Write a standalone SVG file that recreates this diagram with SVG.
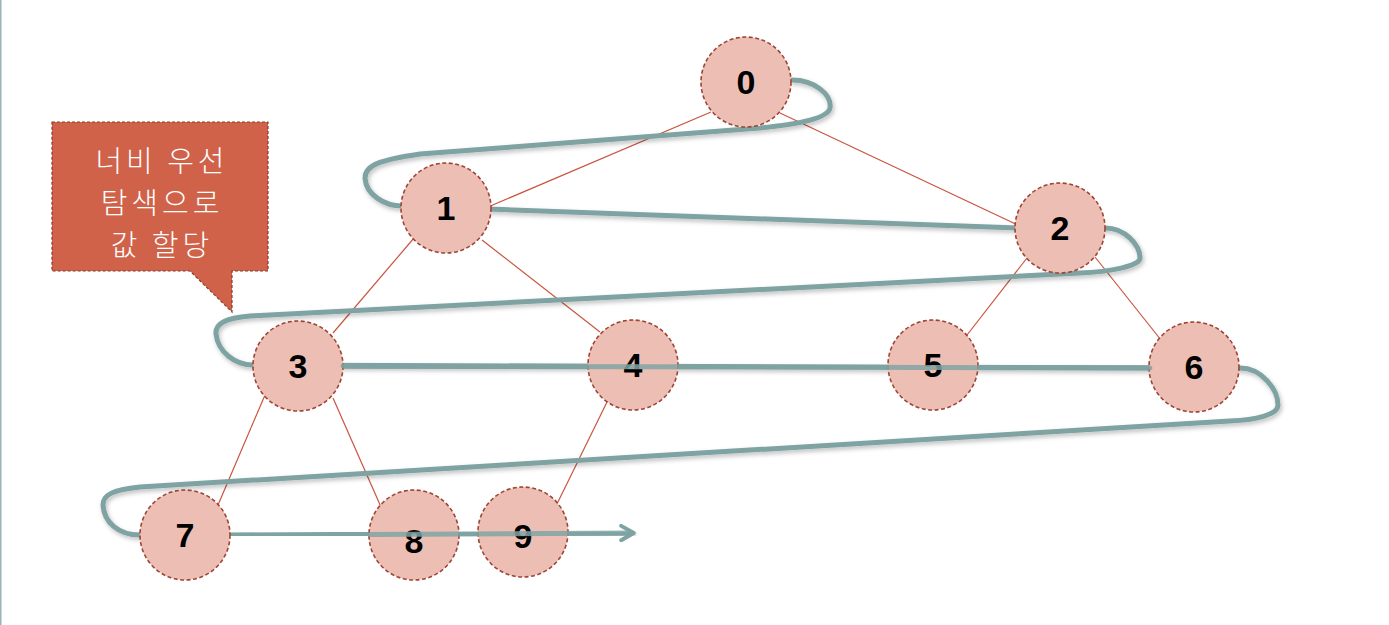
<svg xmlns="http://www.w3.org/2000/svg" width="1389" height="625" viewBox="0 0 1389 625">
<style>
.edge{stroke:#c9553f;stroke-width:1.2;fill:none}
.node circle{fill:#edbfb4;stroke:#9e4436;stroke-width:1.6;stroke-dasharray:4 2.5}
.node text{font-family:"Liberation Sans",Arial,sans-serif;font-weight:bold;font-size:34px;fill:#000;text-anchor:middle}
.trav{stroke:#7fa3a3;stroke-width:5;fill:none;stroke-linecap:round;stroke-linejoin:round}
.callout text{font-family:"Noto Sans CJK KR","Noto Sans",sans-serif;font-weight:300;font-size:29px;letter-spacing:4px;fill:#fff;text-anchor:middle}
</style>
<defs>
<filter id="sh" x="-5%" y="-20%" width="110%" height="140%">
<feDropShadow dx="1.5" dy="2.5" stdDeviation="2" flood-color="#000" flood-opacity="0.25"/>
</filter>
<marker id="arr" viewBox="0 0 10 10" refX="7" refY="5" markerWidth="3.6" markerHeight="3.6" orient="auto" markerUnits="strokeWidth">
<path d="M1,1 L8,5 L1,9" fill="none" stroke="#7fa3a3" stroke-width="2.2" stroke-linecap="round" stroke-linejoin="round"/>
</marker>
</defs>
<rect x="0" y="0" width="1389" height="625" fill="#fff"/>
<rect x="0" y="0" width="1.5" height="625" fill="#9ab3b6"/>
<g id="connectors">
<line class="edge" x1="711" y1="112" x2="488" y2="207"/>
<line class="edge" x1="780" y1="113" x2="1020" y2="226"/>
<line class="edge" x1="414" y1="238" x2="333" y2="333"/>
<line class="edge" x1="482" y1="240" x2="600" y2="332"/>
<line class="edge" x1="1027" y1="258" x2="967" y2="335"/>
<line class="edge" x1="1095" y1="257" x2="1161" y2="340"/>
<line class="edge" x1="265" y1="395" x2="218" y2="505"/>
<line class="edge" x1="333" y1="398" x2="381" y2="507"/>
<line class="edge" x1="608" y1="400" x2="555" y2="508"/>
<path class="trav" filter="url(#sh)" d="M 792 80 C 815 80, 832 95, 830 108 C 828 118, 800 124, 760 128 L 420 154 C 380 160, 365 165, 365 178 C 366 195, 385 206, 402 206 L 1018 228 L 1105 228 C 1125 228, 1140 245, 1140 258 C 1140 266, 1110 272, 1080 273 L 250 316 C 225 318, 215 324, 216 334 C 218 352, 235 365, 253 365 L 1150 368 L 1240 368 C 1262 368, 1278 390, 1278 405 C 1278 415, 1255 420, 1230 421 L 140 487 C 112 490, 103 495, 103 505 C 104 522, 118 535, 140 535 L 185 535"/>
<path class="trav" filter="url(#sh)" d="M 343 366 L 1150 368"/>
<path class="trav" filter="url(#sh)" d="M 231 535 L 632 533"/>
</g>
<g id="node0" class="node"><circle cx="746" cy="82" r="45"/><text x="746" y="94">0</text></g>
<g id="node1" class="node"><circle cx="446" cy="208" r="45"/><text x="446" y="220">1</text></g>
<g id="node2" class="node"><circle cx="1060" cy="228" r="45"/><text x="1060" y="240">2</text></g>
<g id="node3" class="node"><circle cx="298" cy="366" r="45"/><text x="298" y="378">3</text></g>
<g id="node4" class="node"><circle cx="633" cy="365" r="45"/><text x="633" y="377">4</text></g>
<g id="node5" class="node"><circle cx="933" cy="365" r="45"/><text x="933" y="377">5</text></g>
<g id="node6" class="node"><circle cx="1194" cy="367" r="45"/><text x="1194" y="379">6</text></g>
<g id="node7" class="node"><circle cx="185" cy="535" r="45"/><text x="185" y="547">7</text></g>
<g id="node8" class="node"><circle cx="414" cy="535" r="45"/><text x="414" y="553">8</text></g>
<g id="node9" class="node"><circle cx="523" cy="532" r="45"/><text x="523" y="548">9</text></g>
<g id="overlay">
<path class="trav" d="M 343 366 L 1150 368" stroke-opacity="0.85"/>
<path class="trav" d="M 370 534.6 L 632 533" stroke-opacity="0.85" marker-end="url(#arr)"/>
</g>
<g id="callout" class="callout">
<path d="M 52 122 L 268 122 L 268 271 L 232 271 L 232 312 L 190 271 L 52 271 Z" fill="#d0624a" stroke="#8a3a2e" stroke-width="1.2" stroke-dasharray="3 2"/>
<text x="162" y="172">너비 우선</text>
<text x="162" y="214">탐색으로</text>
<text x="162" y="256">값 할당</text>
</g>
</svg>
